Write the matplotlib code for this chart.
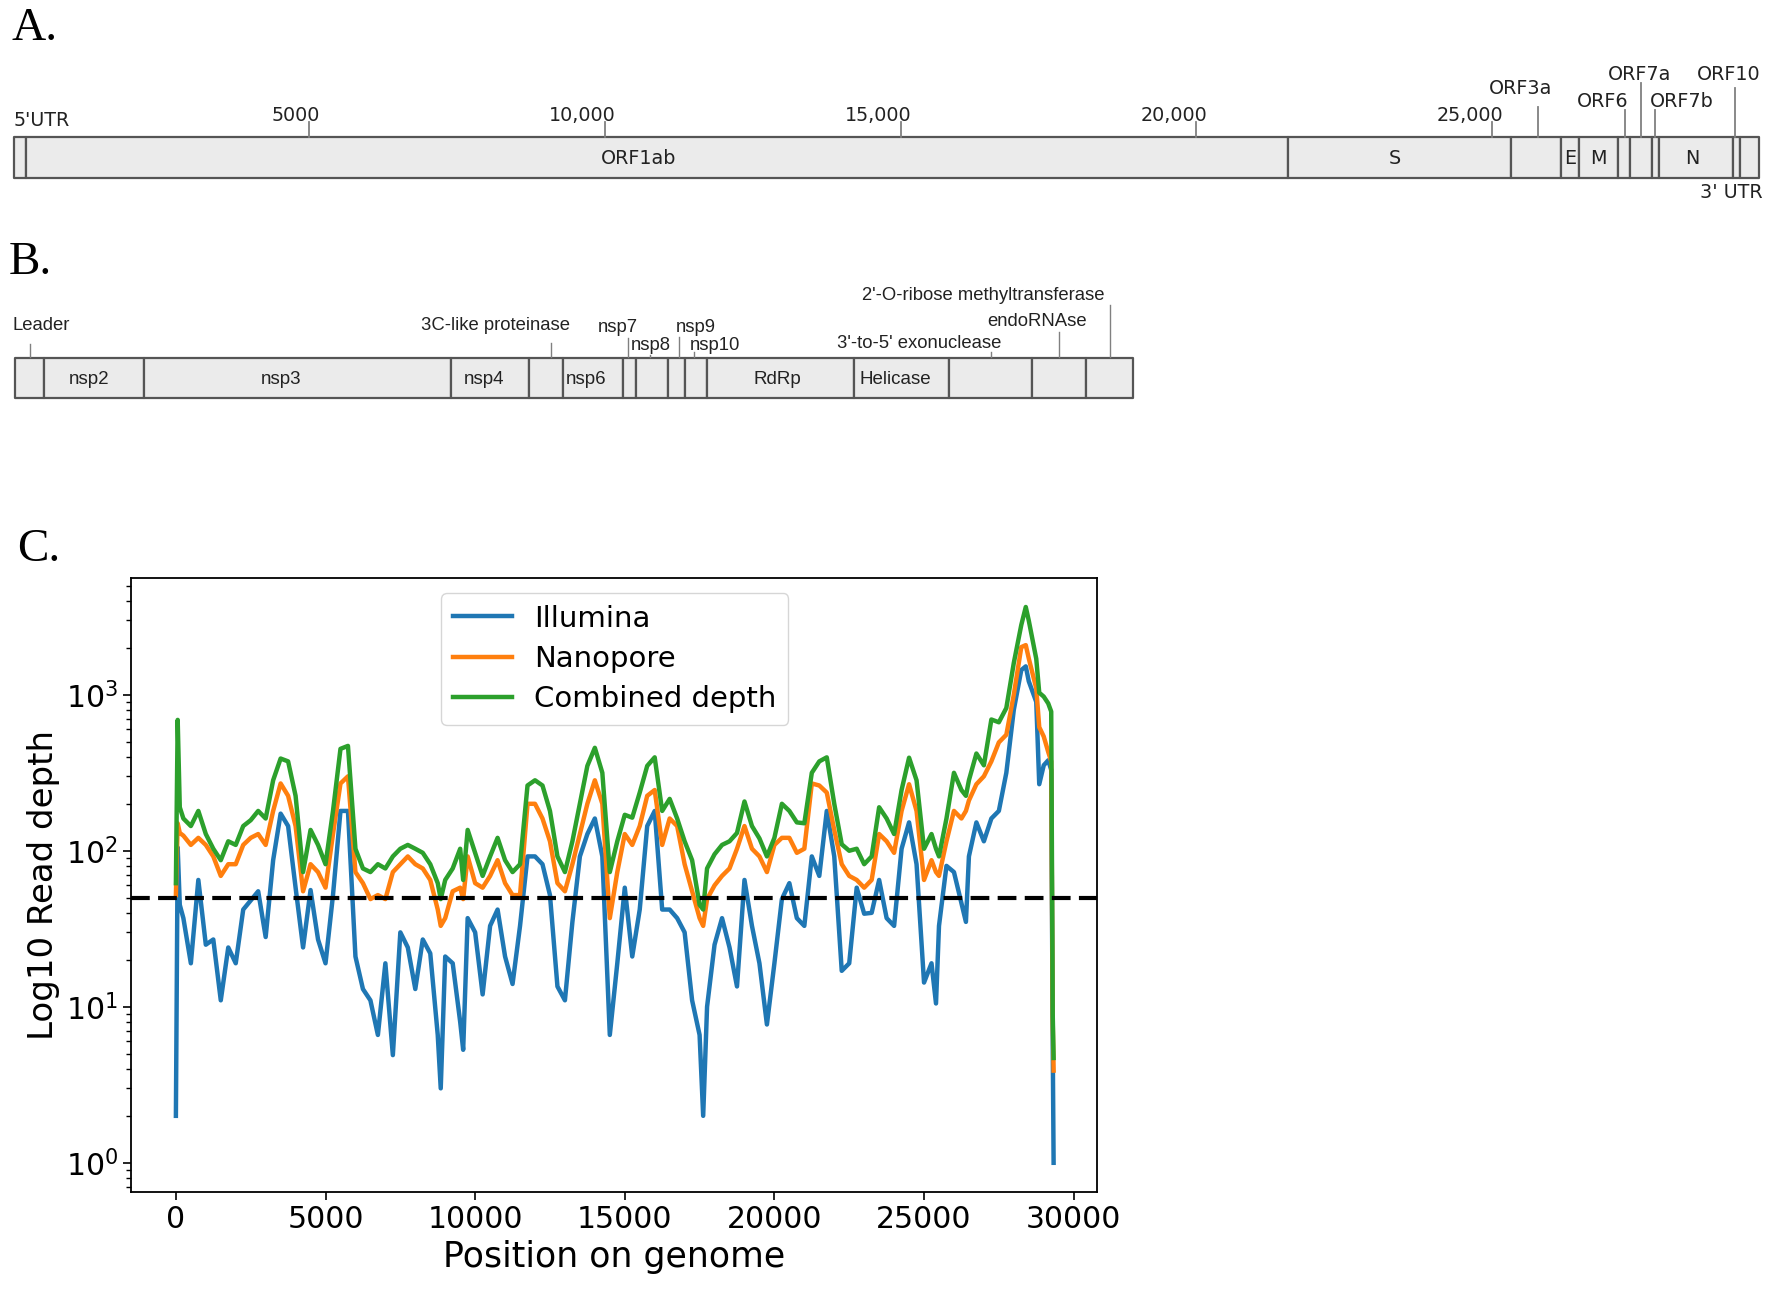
import numpy as np
import matplotlib
import matplotlib.pyplot as plt

matplotlib.use('agg')

W, H = 1770, 1290

a_edges = [17, 217, 21540, 25317, 26162, 26466, 27125, 27328, 27700, 27818, 29069, 29187, 29500]
a_box_labels = ['ORF1ab', 'S', 'E', 'M', 'N']
a_box_label_x = [10580, 23356, 26314, 26787, 28376]
ruler_ticks = [5000, 10000, 15000, 20000, 25000]
ruler_labels = ['5000', '10,000', '15,000', '20,000', '25,000']
orf_labels = ['ORF3a', 'ORF6', 'ORF7a', 'ORF7b', 'ORF10']
orf_tick_x = [25773, 27244, 27514, 27751, 29103]
orf_label_x = [25486, 26872, 27498, 28208, 29002]

# ---- panel B: ORF1ab protein map (aa positions)
b_edges = [0, 181, 819, 2764, 3264, 3478, 3860, 3943, 4141, 4254, 4393, 5325, 5926, 6453, 6799, 7096]
b_box_labels = ['nsp2', 'nsp3', 'nsp4', 'nsp6', 'RdRp', 'Helicase']
b_box_label_x = [470, 1690, 2975, 3625, 4840, 5590]
b_top_labels = ['Leader', '3C-like proteinase', 'nsp7', 'nsp8', 'nsp9', 'nsp10',
                "3'-to-5' exonuclease", 'endoRNAse', "2'-O-ribose methyltransferase"]
b_top_label_x = [-15, 3046, 3827, 4036, 4322, 4442, 5738, 6487, 6144]
b_top_tick_x = [93, 3401, 3890, 4030, 4214, 4309, 6192, 6625, 6950]

# ---- panel C: read depth along the genome
pos = [0, 60, 130, 250, 500, 750, 1000, 1250, 1500, 1750,
       2000, 2250, 2500, 2750, 3000, 3250, 3500, 3750, 4000, 4250,
       4500, 4750, 5000, 5250, 5500, 5750, 6000, 6250, 6500, 6750,
       7000, 7250, 7500, 7750, 8000, 8250, 8500, 8750, 8850, 9000,
       9250, 9500, 9600, 9750, 10000, 10250, 10500, 10750, 11000, 11250,
       11500, 11750, 12000, 12250, 12500, 12750, 13000, 13250, 13500, 13750,
       14000, 14250, 14500, 14750, 15000, 15250, 15500, 15750, 16000, 16250,
       16500, 16750, 17000, 17250, 17500, 17620, 17750, 18000, 18250, 18500,
       18750, 19000, 19250, 19500, 19750, 20000, 20250, 20500, 20750, 21000,
       21250, 21500, 21750, 22000, 22250, 22500, 22750, 23000, 23250, 23500,
       23750, 24000, 24250, 24500, 24750, 25000, 25250, 25400, 25500, 25750,
       26000, 26250, 26400, 26500, 26750, 27000, 27250, 27500, 27750, 28000,
       28250, 28400, 28500, 28750, 28850, 29000, 29150, 29250, 29300, 29330]

illumina = [2, 105, 45, 37, 19, 65, 25, 27, 11, 24,
            19, 42, 48, 55, 28, 87, 173, 144, 58, 24,
            56, 27, 19, 52, 180, 180, 21, 13, 11, 6.6,
            19, 4.9, 30, 24, 13, 27, 22, 6.6, 3, 21,
            19, 8, 5.3, 37, 30, 12, 33, 42, 21, 14,
            33, 92, 92, 82, 52, 13.5, 11, 35, 92, 128,
            161, 92, 6.6, 19, 58, 21, 42, 144, 180, 42,
            42, 37, 30, 11, 6.6, 2, 10, 25, 37, 24,
            13.5, 65, 33, 19, 7.7, 19, 49, 62, 37, 33,
            92, 69, 180, 92, 17, 19, 58, 39.5, 40, 65,
            37, 33, 103, 152, 82, 14.3, 19, 10.5, 33, 80,
            73, 46, 35, 92, 152, 115, 161, 180, 316, 800,
            1440, 1520, 1220, 900, 267, 353, 380, 330, 6, 1.0]

nanopore = [52, 150, 130, 125, 109, 121, 109, 92, 69, 82,
            82, 109, 121, 128, 109, 180, 270, 225, 144, 55,
            82, 73, 58, 128, 270, 300, 73, 62, 49, 52,
            49, 73, 82, 92, 82, 77, 65, 42, 33, 37,
            55, 58, 49, 92, 62, 58, 69, 87, 62, 52,
            52, 200, 200, 161, 115, 62, 55, 82, 128, 200,
            283, 200, 37, 73, 128, 109, 144, 225, 245, 109,
            161, 144, 82, 55, 37, 33, 49, 60, 69, 77,
            103, 144, 103, 92, 73, 109, 121, 121, 97, 103,
            270, 262, 236, 136, 82, 69, 65, 58, 65, 128,
            115, 97, 180, 267, 180, 65, 87, 73, 69, 115,
            180, 161, 180, 210, 267, 300, 374, 495, 554, 1000,
            2020, 2080, 1710, 1100, 620, 540, 430, 374, 8, 3.9]

combined = [62, 690, 190, 161, 144, 180, 128, 103, 87, 115,
            109, 144, 157, 180, 161, 283, 390, 374, 225, 73,
            136, 109, 82, 180, 450, 470, 103, 77, 73, 82,
            77, 92, 103, 109, 103, 97, 82, 62, 49, 65,
            77, 103, 65, 136, 97, 69, 92, 121, 87, 73,
            82, 262, 283, 262, 180, 92, 73, 115, 200, 350,
            457, 316, 73, 115, 170, 163, 236, 350, 397, 180,
            215, 161, 115, 87, 45, 42, 77, 95, 109, 115,
            130, 207, 144, 120, 92, 121, 200, 180, 152, 150,
            316, 374, 397, 200, 110, 100, 103, 82, 92, 190,
            161, 128, 245, 395, 283, 103, 128, 103, 92, 161,
            316, 245, 225, 283, 420, 353, 694, 666, 822, 1600,
            2800, 3650, 2990, 1700, 1030, 973, 880, 780, 9, 4.7]

threshold = 50

BOX_FACE = '#ebebeb'
BOX_EDGE = '#555555'
TICK_GREY = '#808080'
TXT = '#222222'

fig = plt.figure(figsize=(W / 100, H / 100), dpi=100)

### panel A
axA = fig.add_axes([0, 1 - 215 / H, 1, 175 / H])
axA.set_xlim(-219.7, 29694)
axA.set_ylim(215, 40)
axA.axis('off')
axA.broken_barh([(a_edges[i], a_edges[i + 1] - a_edges[i]) for i in range(len(a_edges) - 1)],
                (137, 41), facecolors=BOX_FACE, edgecolors=BOX_EDGE, linewidth=1.6)
for x, lab in zip(a_box_label_x, a_box_labels):
    axA.text(x, 158, lab, ha='center', va='center', fontsize=13.8, color=TXT)
for t, lab in zip(ruler_ticks, ruler_labels):
    axA.plot([t, t], [122, 137], color=TICK_GREY, lw=1.3)
    axA.text(t + 186, 121, lab, ha='right', va='baseline', fontsize=13.8, color=TXT)
axA.text(17, 126, "5'UTR", ha='left', va='baseline', fontsize=13.8, color=TXT)
axA.text(29576, 198, "3' UTR", ha='right', va='baseline', fontsize=13.8, color=TXT)
orf_base = [94, 107, 80, 107, 80]
orf_top = [107, 110, 83, 110, 88]
for x, lx, lab, yb, yt in zip(orf_tick_x, orf_label_x, orf_labels, orf_base, orf_top):
    axA.plot([x, x], [yt, 137], color=TICK_GREY, lw=1.3)
    axA.text(lx, yb, lab, ha='center', va='baseline', fontsize=13.8, color=TXT)

### panel B
axB = fig.add_axes([0, 1 - 420 / H, 1, 150 / H])
axB.set_xlim(-97.1, 11141)
axB.set_ylim(420, 270)
axB.axis('off')
axB.broken_barh([(b_edges[i], b_edges[i + 1] - b_edges[i]) for i in range(len(b_edges) - 1)],
                (358, 40), facecolors=BOX_FACE, edgecolors=BOX_EDGE, linewidth=1.6)
for x, lab in zip(b_box_label_x, b_box_labels):
    axB.text(x, 379, lab, ha='center', va='center', fontsize=13.5,
             family='Liberation Sans', color=TXT)
b_label_y = [326, 326, 328, 346, 327, 346, 343, 322, 295]
b_tick_top = [344, 343, 338, 355, 337, 352, 352, 332, 305]
for lab, lx, tx, ly, ty in zip(b_top_labels, b_top_label_x, b_top_tick_x, b_label_y, b_tick_top):
    axB.plot([tx, tx], [ty, 357], color=TICK_GREY, lw=1.0)
    axB.text(lx, ly, lab, ha='left' if lab == 'Leader' else 'center', va='center',
             fontsize=13.3, family='Liberation Sans', color=TXT)

### panel letters
for lab, x, y in [('A.', 11, 40), ('B.', 9, 274), ('C.', 17, 561)]:
    fig.text(x / W, 1 - y / H, lab, fontsize=34, family='Liberation Serif', va='baseline')

### panel C
axC = fig.add_axes([131 / W, 1 - 1192 / H, 966 / W, 614 / H])
axC.plot(pos, illumina, color='#1f77b4', lw=3.2, label='Illumina')
axC.plot(pos, nanopore, color='#ff7f0e', lw=3.2, label='Nanopore')
axC.plot(pos, combined, color='#2ca02c', lw=3.2, label='Combined depth')
axC.axhline(threshold, color='black', ls=(0, (4.5, 2)), lw=3)
axC.set_yscale('log')
axC.set_xlim(-1500, 30780)
axC.set_ylim(0.65, 5600)
axC.set_xlabel('Position on genome', fontsize=25)
axC.set_ylabel('Log10 Read depth', fontsize=24.5)
axC.tick_params(axis='both', which='major', labelsize=21.5, length=6, width=1.2)
axC.tick_params(axis='y', which='minor', length=3.5, width=1.0)
for s in axC.spines.values():
    s.set_linewidth(1.3)
axC.legend(loc='upper left', bbox_to_anchor=((441 - 131) / 966, 1 - 15 / 614),
           borderaxespad=0, fontsize=21, handlelength=2.05, handletextpad=0.75,
           labelspacing=0.42)

fig.savefig('out.png', dpi=100, facecolor='white')
